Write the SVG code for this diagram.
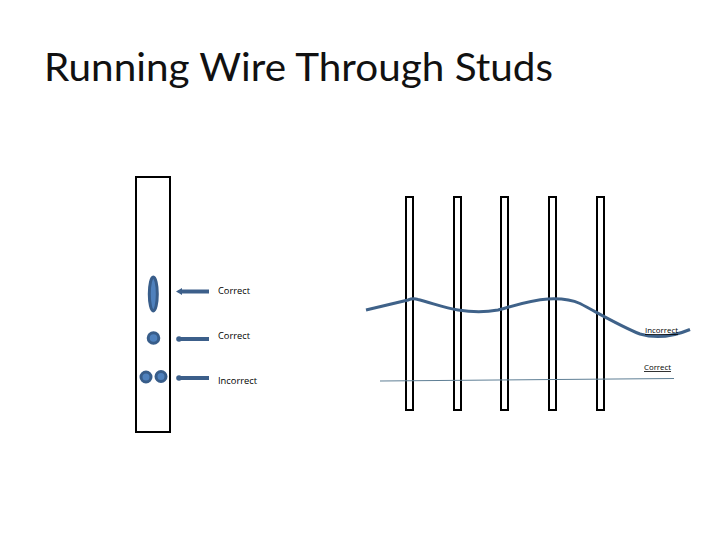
<svg xmlns="http://www.w3.org/2000/svg" width="720" height="540" viewBox="0 0 720 540">
<defs><style>
.bg{fill:#fff}
.frame{fill:#fff;stroke:#000;stroke-width:2}
.stud{fill:#fff;stroke:#000;stroke-width:2}
.hole{fill:#4f81bd;stroke:#385d8a;stroke-width:3}
.lead{fill:none;stroke:#3c5f8a;stroke-width:4}
.wire{fill:none;stroke:#3f6289;stroke-width:3}
.thin{fill:none;stroke:#5f7f95;stroke-width:1}
.label{font-family:"Open Sans","Liberation Sans",sans-serif;font-size:9.500px;fill:#000}
.small{font-size:8px;text-decoration:underline}
.title{font-family:"Lato","Liberation Sans",sans-serif;font-size:38px;fill:#111}
</style>
<marker id="tip" markerUnits="userSpaceOnUse" markerWidth="7" markerHeight="9" refX="1" refY="4.500" orient="auto"><path d="M6 4.500L0 1V8Z" fill="#3c5f8a"/></marker>
<marker id="dot" markerUnits="userSpaceOnUse" markerWidth="6" markerHeight="6" refX="3" refY="3" orient="auto"><circle cx="3" cy="3" r="2.800" fill="#3c5f8a"/></marker>
</defs>
<rect class="bg" width="720" height="540"/>
<text id="title" class="title" x="44" y="81" textLength="509" lengthAdjust="spacingAndGlyphs">Running Wire Through Studs</text>
<g id="stud-section">
<rect class="frame" x="136" y="177" width="34" height="255"/>
<ellipse class="hole" cx="153.300" cy="294" rx="4" ry="17"/>
<circle class="hole" cx="153.500" cy="338" r="5.300"/>
<circle class="hole" cx="146" cy="377" r="5"/>
<circle class="hole" cx="161" cy="376.500" r="5"/>
</g>
<g id="studs">
<rect id="stud-1" class="stud" x="406" y="197" width="7" height="213"/>
<rect id="stud-2" class="stud" x="454" y="197" width="7" height="213"/>
<rect id="stud-3" class="stud" x="501" y="197" width="7" height="213"/>
<rect id="stud-4" class="stud" x="549" y="197" width="7" height="213"/>
<rect id="stud-5" class="stud" x="597" y="197" width="7" height="213"/>
</g>
<g id="connectors">
<line class="lead" x1="209" y1="291.500" x2="181" y2="291.500" marker-end="url(#tip)"/>
<line class="lead" x1="209" y1="339" x2="179" y2="339" marker-end="url(#dot)"/>
<line class="lead" x1="209" y1="378" x2="179" y2="378" marker-end="url(#dot)"/>
<path class="wire" d="M366 310L408 300Q413 298 418 299.500C432 303 445 308 458 310C470 312 485 312.500 498 310C513 306 530 300 548 299C558 298.500 570 299 580 303.500C600 314 620 326 640 334C655 338.500 672 337 690 329.500"/>
<line class="thin" x1="380" y1="381" x2="674" y2="378.500"/>
</g>
<g id="labels">
<text class="label" x="218" y="294" textLength="32" lengthAdjust="spacingAndGlyphs">Correct</text>
<text class="label" x="218" y="339" textLength="32" lengthAdjust="spacingAndGlyphs">Correct</text>
<text class="label" x="218" y="384" textLength="39" lengthAdjust="spacingAndGlyphs">Incorrect</text>
<text class="label small" x="645" y="333" textLength="33" lengthAdjust="spacingAndGlyphs">Incorrect</text>
<text class="label small" x="644" y="370" textLength="27" lengthAdjust="spacingAndGlyphs">Correct</text>
</g>
</svg>
